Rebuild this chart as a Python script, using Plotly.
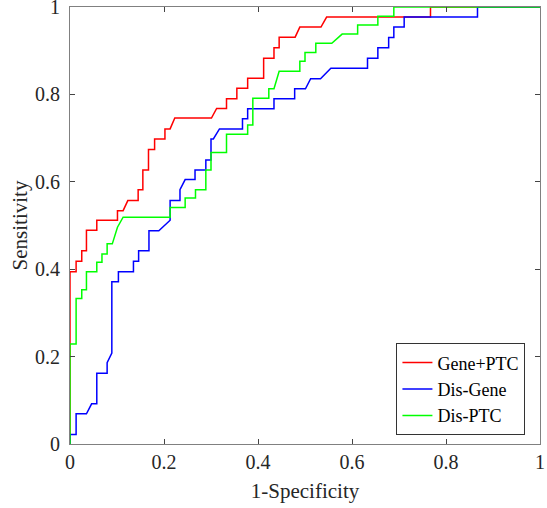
import plotly.graph_objects as go

# ROC curve vertices (1-Specificity, Sensitivity)
gene_ptc_fpr = [0, 0, 0.013, 0.013, 0.025, 0.025, 0.035, 0.035, 0.057, 0.057, 0.101, 0.101,
                0.113, 0.123, 0.145, 0.145, 0.155, 0.155, 0.167, 0.167, 0.180, 0.180, 0.202, 0.202,
                0.213, 0.223, 0.301, 0.312, 0.333, 0.333, 0.355, 0.355, 0.378, 0.378, 0.412, 0.412,
                0.434, 0.434, 0.445, 0.445, 0.479, 0.489, 0.534, 0.546, 0.767, 0.767, 1.0]
gene_ptc_tpr = [0, 0.394, 0.394, 0.418, 0.418, 0.442, 0.442, 0.489, 0.489, 0.512, 0.512, 0.534,
                0.534, 0.557, 0.557, 0.582, 0.582, 0.627, 0.627, 0.674, 0.674, 0.698, 0.698, 0.721,
                0.721, 0.746, 0.746, 0.768, 0.768, 0.790, 0.790, 0.814, 0.814, 0.837, 0.837, 0.883,
                0.883, 0.907, 0.907, 0.931, 0.931, 0.954, 0.954, 0.977, 0.977, 1.0, 1.0]

dis_gene_fpr = [0, 0, 0.013, 0.013, 0.035, 0.046, 0.057, 0.057, 0.079, 0.079, 0.089, 0.089,
                0.103, 0.103, 0.135, 0.135, 0.146, 0.146, 0.168, 0.168, 0.189, 0.213, 0.213, 0.234,
                0.234, 0.245, 0.266, 0.266, 0.289, 0.289, 0.300, 0.300, 0.305, 0.318, 0.367, 0.367,
                0.378, 0.378, 0.434, 0.434, 0.478, 0.478, 0.501, 0.512, 0.533, 0.555, 0.633, 0.633,
                0.655, 0.655, 0.678, 0.678, 0.689, 0.689, 0.711, 0.711, 0.867, 0.867, 1.0]
dis_gene_tpr = [0, 0.022, 0.022, 0.069, 0.069, 0.092, 0.092, 0.162, 0.162, 0.186, 0.208, 0.371,
                0.371, 0.394, 0.394, 0.418, 0.418, 0.442, 0.442, 0.488, 0.488, 0.512, 0.557, 0.557,
                0.582, 0.605, 0.605, 0.627, 0.627, 0.650, 0.650, 0.698, 0.698, 0.721, 0.721, 0.744,
                0.744, 0.767, 0.767, 0.790, 0.790, 0.813, 0.813, 0.836, 0.836, 0.860, 0.860, 0.883,
                0.883, 0.907, 0.907, 0.930, 0.930, 0.954, 0.954, 0.977, 0.977, 1.0, 1.0]

dis_ptc_fpr = [0, 0, 0.013, 0.013, 0.025, 0.025, 0.035, 0.035, 0.057, 0.057, 0.068, 0.068,
               0.079, 0.079, 0.090, 0.101, 0.113, 0.213, 0.213, 0.245, 0.245, 0.267, 0.267, 0.289,
               0.289, 0.300, 0.300, 0.333, 0.333, 0.378, 0.378, 0.389, 0.389, 0.423, 0.423, 0.434,
               0.445, 0.489, 0.489, 0.500, 0.500, 0.523, 0.523, 0.557, 0.579, 0.612, 0.612, 0.655,
               0.655, 0.689, 0.689, 1.0]
dis_ptc_tpr = [0, 0.229, 0.229, 0.333, 0.333, 0.353, 0.353, 0.394, 0.394, 0.416, 0.416, 0.435,
               0.435, 0.458, 0.458, 0.496, 0.519, 0.519, 0.541, 0.541, 0.563, 0.563, 0.582, 0.582,
               0.627, 0.627, 0.667, 0.667, 0.709, 0.709, 0.730, 0.730, 0.791, 0.791, 0.813, 0.813,
               0.853, 0.853, 0.876, 0.876, 0.896, 0.896, 0.917, 0.917, 0.938, 0.938, 0.959, 0.959,
               0.979, 0.979, 1.0, 1.0]

series_names = ["Gene+PTC", "Dis-Gene", "Dis-PTC"]
series_colors = ["#ff0000", "#0000ff", "#00ff00"]
tick_vals = [0, 0.2, 0.4, 0.6, 0.8, 1]
tick_text = ["0", "0.2", "0.4", "0.6", "0.8", "1"]

SERIF = "Liberation Serif, Times New Roman, serif"

fig = go.Figure()
for name, color, xs, ys in zip(series_names, series_colors,
                               [gene_ptc_fpr, dis_gene_fpr, dis_ptc_fpr],
                               [gene_ptc_tpr, dis_gene_tpr, dis_ptc_tpr]):
    fig.add_trace(go.Scatter(x=xs, y=ys, mode="lines", name=name,
                             line=dict(color=color, width=1.5)))

axis_common = dict(
    range=[0, 1], tickvals=tick_vals, ticktext=tick_text,
    ticks="inside", ticklen=5, tickcolor="#444444", tickwidth=1,
    showline=True, linecolor="#808080", linewidth=1.2, mirror="ticks",
    showgrid=False, zeroline=False, automargin=False,
    ticklabeloverflow="allow",
    tickfont=dict(family=SERIF, size=20, color="#262626"),
)

fig.update_layout(
    width=547, height=508,
    margin=dict(l=70, r=7, t=7, b=63.5),
    paper_bgcolor="white", plot_bgcolor="white",
    font=dict(family=SERIF, size=20, color="#262626"),
    xaxis=dict(axis_common, title=dict(text="1-Specificity", standoff=11,
                                       font=dict(family=SERIF, size=21))),
    yaxis=dict(axis_common, ticklabelstandoff=5,
               title=dict(text="Sensitivity", standoff=1,
                          font=dict(family=SERIF, size=21))),
    legend=dict(x=0.969, y=0.125, xanchor="right", yanchor="middle",
                bordercolor="#333333", borderwidth=1, bgcolor="white",
                font=dict(family=SERIF, size=18, color="#000000"),
                itemwidth=30, tracegroupgap=0),
    showlegend=True,
)

fig.write_html("out.html", config={"displayModeBar": False},
               post_script="document.body.style.margin='0';")
